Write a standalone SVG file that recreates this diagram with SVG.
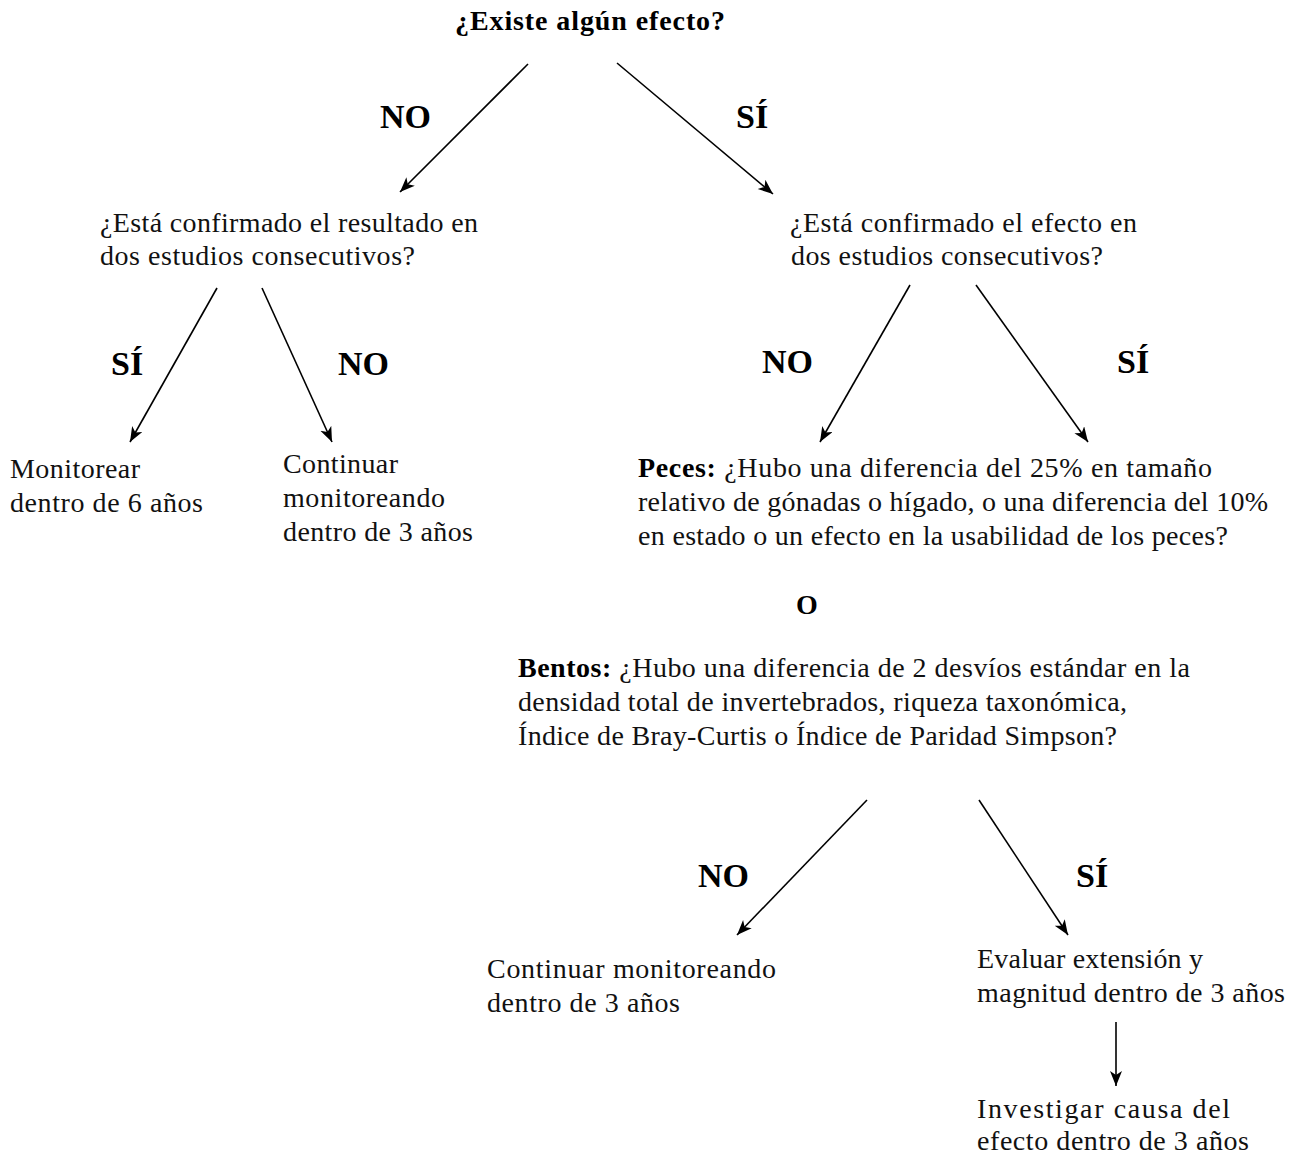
<svg xmlns="http://www.w3.org/2000/svg" width="1299" height="1154" viewBox="0 0 1299 1154">
<defs>
<marker id="ah" markerUnits="userSpaceOnUse" markerWidth="16" markerHeight="14" refX="15" refY="6" orient="auto">
<path d="M0,0 L15,6 L0,12 L4,6 Z" fill="#000"/>
</marker>
<style>
.t{font-family:"Liberation Serif","Times New Roman",serif;font-size:28px;fill:#111}
.b{font-family:"Liberation Serif","Times New Roman",serif;font-weight:bold;fill:#000}
.lbl{font-family:"Liberation Serif","Times New Roman",serif;font-weight:bold;font-size:34px;fill:#000}
.c{stroke:#000;stroke-width:1.6;fill:none;marker-end:url(#ah)}
</style>
</defs>
<rect width="1299" height="1154" fill="#fff"/>
<g id="connectors">
<line class="c" x1="528" y1="64" x2="400" y2="192"/>
<line class="c" x1="617" y1="63" x2="773" y2="194"/>
<line class="c" x1="217" y1="288" x2="130" y2="442"/>
<line class="c" x1="262" y1="288" x2="332" y2="442"/>
<line class="c" x1="910" y1="285" x2="820" y2="442"/>
<line class="c" x1="976" y1="285" x2="1088" y2="442"/>
<line class="c" x1="867" y1="800" x2="737" y2="935"/>
<line class="c" x1="979" y1="800" x2="1068" y2="935"/>
<line class="c" x1="1116" y1="1022" x2="1116" y2="1086"/>
<text class="lbl" x="380" y="128">NO</text>
<text class="lbl" x="736" y="128">SÍ</text>
<text class="lbl" x="111" y="375">SÍ</text>
<text class="lbl" x="338" y="375">NO</text>
<text class="lbl" x="762" y="373">NO</text>
<text class="lbl" x="1117" y="373">SÍ</text>
<text class="lbl" x="698" y="887">NO</text>
<text class="lbl" x="1076" y="887">SÍ</text>
</g>
<g id="n-existe">
<text class="b" x="455" y="30" font-size="28" textLength="270" lengthAdjust="spacing">¿Existe algún efecto?</text>
</g>
<g id="n-confirm-result">
<text class="t" x="100" y="232" textLength="378">¿Está confirmado el resultado en</text>
<text class="t" x="100" y="265" textLength="315">dos estudios consecutivos?</text>
</g>
<g id="n-confirm-effect">
<text class="t" x="790" y="232" textLength="347">¿Está confirmado el efecto en</text>
<text class="t" x="791" y="265" textLength="312">dos estudios consecutivos?</text>
</g>
<g id="n-monitor6">
<text class="t" x="10" y="478" textLength="130">Monitorear</text>
<text class="t" x="10" y="512" textLength="193">dentro de 6 años</text>
</g>
<g id="n-continue3a">
<text class="t" x="283" y="473" textLength="115">Continuar</text>
<text class="t" x="283" y="507" textLength="162">monitoreando</text>
<text class="t" x="283" y="541" textLength="190">dentro de 3 años</text>
</g>
<g id="n-criteria">
<text class="t" x="638" y="477" textLength="574"><tspan class="b">Peces:</tspan>  ¿Hubo una diferencia del 25% en tamaño</text>
<text class="t" x="638" y="511" textLength="630">relativo de gónadas o hígado, o una diferencia del 10%</text>
<text class="t" x="638" y="545" textLength="590">en estado o un efecto en la usabilidad de los peces?</text>
<text class="b" x="807" y="614" font-size="28" text-anchor="middle">O</text>
<text class="t" x="518" y="677" textLength="672"><tspan class="b">Bentos:</tspan>  ¿Hubo una diferencia de 2 desvíos estándar en la</text>
<text class="t" x="518" y="711" textLength="609">densidad total de invertebrados, riqueza taxonómica,</text>
<text class="t" x="518" y="745" textLength="599">Índice de Bray-Curtis o Índice de Paridad Simpson?</text>
</g>
<g id="n-continue3b">
<text class="t" x="487" y="978" textLength="289">Continuar monitoreando</text>
<text class="t" x="487" y="1012" textLength="193">dentro de 3 años</text>
</g>
<g id="n-evaluate">
<text class="t" x="977" y="968" textLength="226">Evaluar extensión y</text>
<text class="t" x="977" y="1002" textLength="308">magnitud dentro de 3 años</text>
</g>
<g id="n-investigate">
<text class="t" x="977" y="1118" textLength="253">Investigar causa del</text>
<text class="t" x="977" y="1150" textLength="272">efecto dentro de 3 años</text>
</g>
</svg>
